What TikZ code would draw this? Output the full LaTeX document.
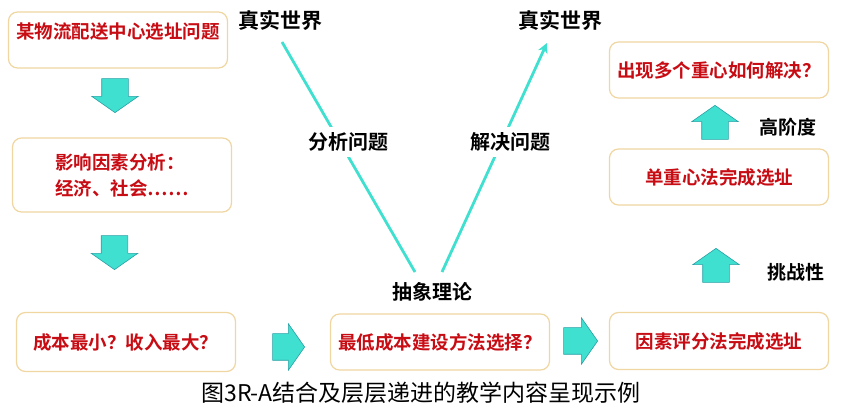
\documentclass[tikz,border=0pt]{standalone}
\usepackage{fontspec}
\setmainfont{Noto Sans CJK SC}[BoldFont={Noto Sans CJK SC Bold}]
\usetikzlibrary{arrows.meta,shapes.arrows}
\definecolor{stagered}{RGB}{200,12,20}
\definecolor{stageline}{RGB}{240,214,160}
\definecolor{turq}{RGB}{64,224,208}
\definecolor{turqdark}{RGB}{40,160,165}

\begin{document}
\begin{tikzpicture}[
    x=1pt, y=-1pt,
    stage/.style={rectangle, draw=stageline, fill=white, line width=1.2pt, rounded corners=9pt, minimum width=219pt, minimum height=56pt, font=\fontsize{18.5}{26}\selectfont\bfseries, text=stagered, align=center},
    flowarrow/.style={single arrow, draw=turqdark, fill=turq, line width=0.6pt, text height=13pt, text depth=13pt, inner sep=0pt, minimum width=46pt, minimum height=34pt, single arrow head extend=10pt, single arrow tip angle=110, anchor=tip},
    tag/.style={font=\fontsize{20}{24}\selectfont\bfseries, text=black, fill=white, inner sep=3pt},
    vline/.style={draw=turq, line width=2.8pt}
]
\useasboundingbox (0,0) rectangle (844,411);

% V between the real world and the theory
\coordinate (vltop) at (282,42);
\coordinate (vlbot) at (415,272);
\coordinate (vrbot) at (442,272);
\coordinate (vrtop) at (547,43);
\draw [vline] (vltop) -- (vlbot);
\draw [vline, -{Stealth[length=10pt,width=10pt,inset=3pt]}] (vrbot) -- (vrtop);

\node [tag, font=\fontsize{21}{24}\selectfont\bfseries] (worldl) at (280,20) {真实世界};
\node [tag, font=\fontsize{21}{24}\selectfont\bfseries] (worldr) at (560,20) {真实世界};
\node [tag, inner ysep=6pt] (analyse) at (348,142) {分析问题};
\node [tag, inner ysep=6pt] (solve) at (510,142) {解决问题};
\node [tag] (theory) at (432,292) {抽象理论};

% left column
\node [stage, text depth=18pt] (task) at (118,40) {某物流配送中心选址问题};
\node [stage, minimum height=74pt, align=left] (factor) at (122,175) {影响因素分析：\\经济、社会……};
\node [stage, minimum height=59pt] (goal) at (126,342) {成本最小？收入最大？};

% bottom row and right column
\node [stage] (method) at (440,342) {最低成本建设方法选择？};
\node [stage, minimum height=57pt] (score) at (719,341) {因素评分法完成选址};
\node [stage] (single) at (719,177) {单重心法完成选址};
\node [stage] (multi) at (719,70) {出现多个重心如何解决？};

% block arrows
\node [flowarrow, rotate=-90] (down1) at (115,113) {};
\node [flowarrow, rotate=-90] (down2) at (114.5,270) {};
\node [flowarrow, minimum height=32pt] (right1) at (305,347) {};
\node [flowarrow] (right2) at (598,341) {};
\node [flowarrow, rotate=90] (up1) at (716,248) {};
\node [flowarrow, rotate=90] (up2) at (715,105) {};

\node [tag, font=\fontsize{19}{24}\selectfont\bfseries] (hard) at (796,272) {挑战性};
\node [tag, font=\fontsize{19}{24}\selectfont\bfseries] (high) at (788,127) {高阶度};

\node [font=\fontsize{23}{26}\selectfont] (caption) at (421,393) {图3R-A结合及层层递进的教学内容呈现示例};
\end{tikzpicture}
\end{document}
